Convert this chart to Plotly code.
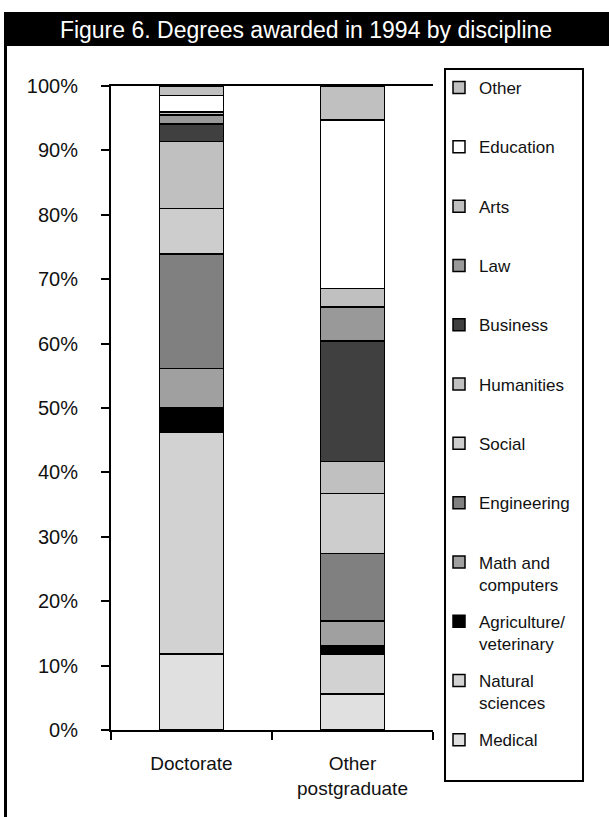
import plotly.graph_objects as go

# ---------------- data ----------------
categories = ["Doctorate", "Other<br>postgraduate"]

series_names = [
    "Medical", "Natural<br>sciences", "Agriculture/<br>veterinary",
    "Math and<br>computers", "Engineering", "Social", "Humanities",
    "Business", "Law", "Arts", "Education", "Other",
]
medical = [11.8, 5.6]
natural_sciences = [34.5, 6.1]
agriculture = [3.7, 1.4]
math_computers = [6.1, 3.8]
engineering = [17.8, 10.5]
social = [7.1, 9.3]
humanities = [10.4, 5.0]
business = [2.7, 18.7]
law = [1.4, 5.3]
arts = [0.5, 2.85]
education = [2.5, 26.2]
other = [1.5, 5.25]

series_values = [medical, natural_sciences, agriculture, math_computers,
                 engineering, social, humanities, business, law, arts,
                 education, other]

y_ticks = [0, 10, 20, 30, 40, 50, 60, 70, 80, 90, 100]
y_tick_labels = [f"{v}%" for v in y_ticks]

# ---------------- styles ----------------
colors = ["#E0E0E0", "#D2D2D2", "#000000", "#A0A0A0", "#808080", "#CDCDCD",
          "#C0C0C0", "#404040", "#999999", "#C0C0C0", "#FFFFFF", "#C0C0C0"]

FONT = "Liberation Sans, Arial, sans-serif"
W, H = 609, 817
L, R, T, B = 111, 176, 86, 87
PW, PH = W - L - R, H - T - B


def px_x(px):
    return (px - L) / PW


def px_y(py):
    return (H - B - py) / PH


fig = go.Figure()
n = len(series_names)
for i, (name, vals, col) in enumerate(zip(series_names, series_values, colors)):
    leg_idx = n - i  # Other -> legend (1), Medical -> legend12
    leg_key = "legend" if leg_idx == 1 else f"legend{leg_idx}"
    fig.add_trace(go.Bar(
        x=categories, y=vals, name=name,
        marker=dict(color=col, line=dict(color="#000000", width=1.5)),
        width=0.4, legend=leg_key,
    ))

layout_legends = {}
first_center = 84
step = 59.3
for k in range(1, n + 1):
    key = "legend" if k == 1 else f"legend{k}"
    center = first_center + (k - 1) * step
    layout_legends[key] = dict(
        x=px_x(439), xanchor="left",
        y=px_y(center - 14), yanchor="top",
        bgcolor="rgba(0,0,0,0)", borderwidth=0,
        font=dict(family=FONT, size=17, color="#111111"),
        valign="top", itemclick=False, itemdoubleclick=False,
    )

fig.update_layout(
    width=W, height=H,
    margin=dict(l=L, r=R, t=T, b=B, autoexpand=False),
    paper_bgcolor="white", plot_bgcolor="white",
    barmode="stack", bargap=0.6,
    showlegend=True,
    title=dict(
        text="Figure 6. Degrees awarded in 1994 by discipline",
        x=306 / W, xanchor="center", y=1 - 29.5 / H, yanchor="middle",
        font=dict(family=FONT, size=23, color="white"),
    ),
    xaxis=dict(
        range=[-0.5, 1.5], showline=True, linecolor="black", linewidth=2,
        mirror=True, ticks="outside", ticklen=8, tickwidth=2, tickcolor="black",
        tickson="boundaries", showgrid=False, zeroline=False,
        tickfont=dict(family=FONT, size=19, color="#111111"),
        ticklabelstandoff=15, fixedrange=True,
    ),
    yaxis=dict(
        range=[0, 100], tickmode="array", tickvals=y_ticks,
        ticktext=y_tick_labels,
        showline=True, linecolor="black", linewidth=2,
        ticks="outside", ticklen=8, tickwidth=2, tickcolor="black",
        showgrid=False, zeroline=False,
        tickfont=dict(family=FONT, size=20, color="#111111"),
        ticklabelstandoff=19, fixedrange=True,
    ),
    shapes=[
        # title bar
        dict(type="rect", xref="paper", yref="paper",
             x0=px_x(4), x1=px_x(612), y0=px_y(46), y1=px_y(12),
             fillcolor="black", line=dict(width=0), layer="below"),
        # left frame line
        dict(type="line", xref="paper", yref="paper",
             x0=px_x(5.5), x1=px_x(5.5), y0=px_y(45), y1=px_y(820),
             line=dict(color="black", width=3)),
        # legend box
        dict(type="rect", xref="paper", yref="paper",
             x0=px_x(445), x1=px_x(583), y0=px_y(781), y1=px_y(69),
             fillcolor="rgba(0,0,0,0)", line=dict(color="black", width=2)),
    ],
    **layout_legends,
)

fig.write_html("out.html",
               config={"displayModeBar": False, "staticPlot": False},
               post_script="document.body.style.margin='0';"
                           "document.body.style.overflow='hidden';")
